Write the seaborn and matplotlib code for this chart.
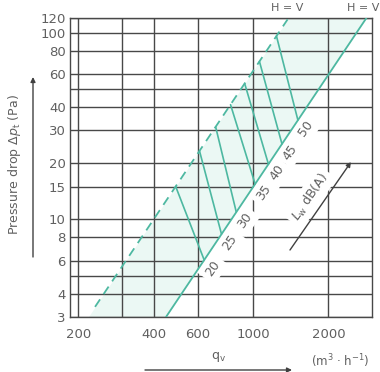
import matplotlib
matplotlib.use("Agg")
import matplotlib.pyplot as plt
import numpy as np
import pandas as pd
import seaborn as sns

# Axis ticks
x_major = [200, 400, 600, 1000, 2000]
x_major_labels = ["200", "400", "600", "1000", "2000"]
x_minor = [300]
y_major = [3, 4, 6, 8, 10, 15, 20, 30, 40, 60, 80, 100, 120]
y_major_labels = ["3", "4", "6", "8", "10", "15", "20", "30", "40", "60", "80", "100", "120"]
y_minor = [5, 50]

# Boundary lines (H = V)
dashed_q = [233, 1374]
dashed_dp = [3.4, 118]
solid_q = [448, 2840]
solid_dp = [3.0, 120]

# Operating band between the two boundaries
band_dp = [3, 120]
band_q_left = [219, 1386]
band_q_right = [448, 2840]

# Sound power level lines L_w dB(A)
lw_levels = [20, 25, 30, 35, 40, 45, 50]
lw_q_top = [490, 610, 708, 812, 925, 1060, 1240]
lw_dp_top = [15.0, 23.3, 31.3, 41.2, 53.5, 70.2, 96.0]
lw_q_bot = [637, 747, 856, 1018, 1151, 1304, 1510]
lw_dp_bot = [6.06, 8.35, 10.96, 15.5, 19.8, 25.4, 34.1]

TEAL = "#4db8a1"
BAND = "#ebf8f4"
GRID = "#484848"
TXT = "#606060"

sns.set_theme(style="white")
plt.rcParams["font.family"] = ["DejaVu Sans"]
plt.rcParams["mathtext.fontset"] = "dejavusans"

W, H = 380, 372
fig = plt.figure(figsize=(W / 100, H / 100), dpi=100)
ax = fig.add_axes([70 / W, 55 / H, 302 / W, 299 / H])

ax.set_xscale("log")
ax.set_yscale("log")
ax.set_xlim(185, 2990)
ax.set_ylim(3, 120)

ax.fill_betweenx(band_dp, band_q_left, band_q_right, color=BAND, lw=0, zorder=0)

# grid
ax.set_xticks(x_major)
ax.set_xticklabels(x_major_labels)
ax.set_xticks(x_minor, minor=True)
ax.set_yticks(y_major)
ax.set_yticklabels(y_major_labels)
ax.set_yticks(y_minor, minor=True)
ax.xaxis.set_minor_formatter(matplotlib.ticker.NullFormatter())
ax.yaxis.set_minor_formatter(matplotlib.ticker.NullFormatter())
ax.grid(True, which="both", color=GRID, lw=1.0, zorder=1)
ax.set_axisbelow(True)
ax.tick_params(which="both", length=0, colors=TXT, labelsize=9.5)
ax.tick_params(axis="x", pad=8)
ax.tick_params(axis="y", pad=3)
for s in ax.spines.values():
    s.set_color(GRID)
    s.set_linewidth(1.0)

# boundary lines
bounds = pd.DataFrame({
    "q": dashed_q + solid_q,
    "dp": dashed_dp + solid_dp,
    "kind": ["dashed"] * 2 + ["solid"] * 2,
})
sns.lineplot(data=bounds[bounds.kind == "solid"], x="q", y="dp", color=TEAL,
             lw=1.3, ax=ax, estimator=None, sort=False, zorder=3)
sns.lineplot(data=bounds[bounds.kind == "dashed"], x="q", y="dp", color=TEAL,
             lw=1.3, ax=ax, estimator=None, sort=False, zorder=3,
             linestyle=(0, (5, 3.5)))

# L_w lines
rows = []
for L, qt, pt, qb, pb in zip(lw_levels, lw_q_top, lw_dp_top, lw_q_bot, lw_dp_bot):
    rows.append({"Lw": L, "q": qt, "dp": pt})
    rows.append({"Lw": L, "q": qb, "dp": pb})
lw_df = pd.DataFrame(rows)
sns.lineplot(data=lw_df, x="q", y="dp", units="Lw", estimator=None, sort=False,
             color=TEAL, lw=1.2, ax=ax, zorder=3)

white_box = dict(boxstyle="square,pad=0.35", fc="white", ec="none")
for L, qb, pb in zip(lw_levels, lw_q_bot, lw_dp_bot):
    ax.annotate(str(L), xy=(qb, pb), xytext=(6, -6), textcoords="offset points",
                ha="center", va="center", rotation=55, fontsize=9, color=TXT,
                bbox=white_box, zorder=2)

ax.set_xlabel("")
ax.set_ylabel("")

# H = V labels
fig.text(287 / W, 1 - 8 / H, "H = V", ha="center", va="center", fontsize=8, color=TXT)
fig.text(347 / W, 1 - 8 / H, "H = V", ha="left", va="center", fontsize=8, color=TXT)

# L_w dB(A) with arrow
ax.text(310 / W, 1 - 197 / H, r"$L_{\mathrm{w}}$ dB(A)", ha="center", va="center",
        rotation=56, fontsize=9, color=TXT, transform=fig.transFigure,
        bbox=dict(boxstyle="square,pad=0.3", fc="white", ec="none"), zorder=2)
arrow_kw = dict(arrowstyle="-|>", lw=1.0, color="#404040", mutation_scale=7,
                shrinkA=0, shrinkB=0)
fig.add_artist(matplotlib.patches.FancyArrowPatch((290, H - 250), (351, H - 162),
                                                  transform=None, **arrow_kw))

# y axis label with arrow
fig.text(15 / W, 1 - 165 / H, r"Pressure drop $\Delta p_{\mathrm{t}}$ (Pa)", ha="center",
         va="center", rotation=90, fontsize=9, color=TXT)
fig.add_artist(matplotlib.patches.FancyArrowPatch((33, H - 257), (33, H - 77),
                                                  transform=None, **arrow_kw))

# x axis label with arrow
fig.text(218 / W, 1 - 357 / H, r"q$_{\mathrm{v}}$", ha="center", va="center",
         fontsize=9, color=TXT)
fig.text(340 / W, 1 - 361 / H, r"(m$^{3}$ · h$^{-1}$)", ha="center", va="center",
         fontsize=8.5, color=TXT)
fig.add_artist(matplotlib.patches.FancyArrowPatch((145, H - 370), (292, H - 370),
                                                  transform=None, **arrow_kw))

fig.savefig("out.png", dpi=100)
